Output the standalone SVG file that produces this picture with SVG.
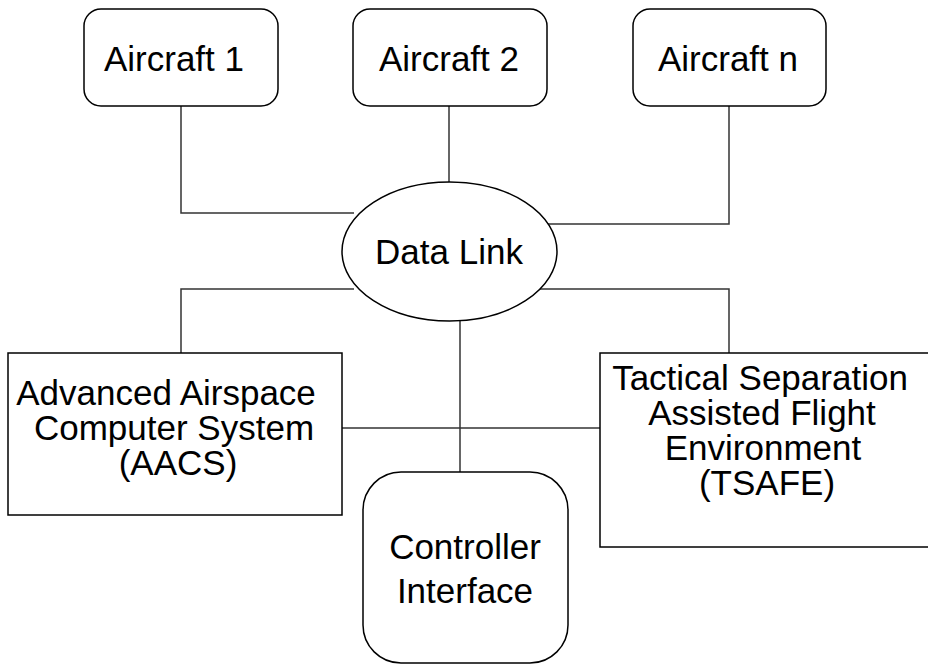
<svg xmlns="http://www.w3.org/2000/svg" width="928" height="665" viewBox="0 0 928 665">
<style>
.box{fill:#fff;stroke:#000;stroke-width:1.5}
.conn{fill:none;stroke:#333;stroke-width:1.5}
text{font-family:"Liberation Sans",Arial,sans-serif;font-size:35px;fill:#000;text-anchor:middle}
</style>
<rect width="928" height="665" fill="#fff"/>
<g id="connectors">
<polyline class="conn" points="181,106 181,213 354,213"/>
<line class="conn" x1="449" y1="106" x2="449" y2="182"/>
<polyline class="conn" points="546,224 729,224 729,106"/>
<polyline class="conn" points="354,289 181,289 181,353"/>
<polyline class="conn" points="535,289 729,289 729,353"/>
<line class="conn" x1="460" y1="321" x2="460" y2="472"/>
<line class="conn" x1="342" y1="428" x2="600" y2="428"/>
</g>
<g id="aircraft1"><rect class="box" x="84" y="9" width="194" height="97" rx="17"/><text x="174" y="71">Aircraft 1</text></g>
<g id="aircraft2"><rect class="box" x="353" y="9" width="194" height="97" rx="17"/><text x="449" y="71">Aircraft 2</text></g>
<g id="aircraftn"><rect class="box" x="633" y="9" width="193" height="97" rx="17"/><text x="728" y="71">Aircraft n</text></g>
<g id="datalink"><ellipse class="box" cx="449.5" cy="251.5" rx="107.5" ry="69.5"/><text x="449" y="264">Data Link</text></g>
<g id="aacs"><rect class="box" x="8" y="353" width="334" height="162"/>
<text x="166" y="405">Advanced Airspace</text><text x="174" y="440">Computer System</text><text x="178" y="475">(AACS)</text></g>
<g id="tsafe"><rect class="box" x="600" y="353" width="340" height="194"/>
<text x="760" y="390">Tactical Separation</text><text x="762" y="425">Assisted Flight</text><text x="763" y="460">Environment</text><text x="767" y="495">(TSAFE)</text></g>
<g id="controller"><rect class="box" x="363" y="472" width="205" height="191" rx="38"/>
<text x="465" y="559">Controller</text><text x="465" y="603">Interface</text></g>
</svg>
